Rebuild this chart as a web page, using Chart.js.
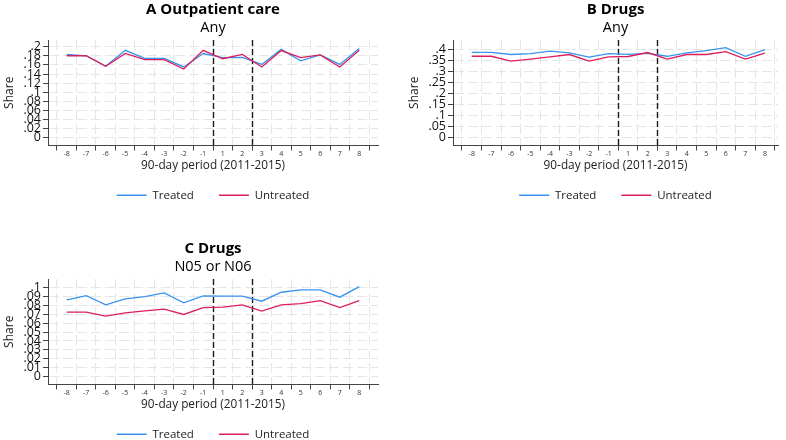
<!DOCTYPE html>
<html><head><meta charset="utf-8">
<script src="https://cdn.jsdelivr.net/npm/chart.js@4.4.1/dist/chart.umd.min.js"></script>
<style>
html,body{margin:0;padding:0;background:#fff;}
#wrap{position:relative;width:786px;height:440px;overflow:hidden;background:#fff;}
.p{position:absolute;}
canvas{display:block;}
</style></head><body>
<div id="wrap">
<div class="p" style="left:0px;top:0px"><canvas id="cA" width="426" height="211" style="width:426px;height:211px"></canvas></div>
<div class="p" style="left:405px;top:0px"><canvas id="cB" width="421" height="211" style="width:421px;height:211px"></canvas></div>
<div class="p" style="left:0px;top:239px"><canvas id="cC" width="426" height="211" style="width:426px;height:211px"></canvas></div>
</div>
<script>
// ---- data ----
const periods = ['-8','-7','-6','-5','-4','-3','-2','-1','1','2','3','4','5','6','7','8'];
const cutoffAfter = ['-1','2'];
const seriesNames = ['Treated','Untreated'];

const treatedA   = [0.183,0.180,0.157,0.192,0.1745,0.1745,0.1555,0.185,0.176,0.1765,0.161,0.194,0.169,0.182,0.161,0.196];
const untreatedA = [0.180,0.180,0.157,0.185,0.1715,0.1715,0.151,0.192,0.1735,0.183,0.1555,0.1915,0.176,0.182,0.1555,0.192];

const treatedB   = [0.389,0.389,0.379,0.383,0.394,0.386,0.367,0.383,0.380,0.384,0.371,0.386,0.397,0.410,0.371,0.401];
const untreatedB = [0.371,0.371,0.349,0.358,0.368,0.379,0.349,0.368,0.370,0.388,0.358,0.379,0.379,0.392,0.358,0.385];

const treatedC   = [0.0859,0.0907,0.0803,0.087,0.0896,0.0937,0.0826,0.0903,0.090,0.090,0.0844,0.0944,0.097,0.097,0.0889,0.1007];
const untreatedC = [0.0722,0.0722,0.0678,0.0714,0.0737,0.0756,0.0696,0.0773,0.0778,0.0803,0.0733,0.0803,0.0818,0.0851,0.0773,0.0851];

const yTicksA = [0,0.02,0.04,0.06,0.08,0.1,0.12,0.14,0.16,0.18,0.2];
const yTicksB = [0,0.05,0.1,0.15,0.2,0.25,0.3,0.35,0.4];
const yTicksC = [0,0.01,0.02,0.03,0.04,0.05,0.06,0.07,0.08,0.09,0.1];

const titles = ['A Outpatient care','B Drugs','C Drugs'];
const subtitles = ['Any','Any','N05 or N06'];
const xTitle = '90-day period (2011-2015)';
const yTitle = 'Share';

// ---- style ----
Chart.defaults.font.family = "'Open Sans', 'Noto Sans', sans-serif";
Chart.defaults.color = '#111';
const BLUE = '#3a93f0';
const RED = '#dc1f5a';
const GRID = '#e6e6e6';
const AXIS = '#444';

function fmtY(v){
  if (v === 0) return '0';
  return String(+v.toFixed(3)).replace(/^0\./,'.');
}

const cutoffPlugin = {
  id: 'cutoffLines',
  beforeDatasetsDraw(chart){
    const {ctx, chartArea, scales} = chart;
    const x = scales.x;
    ctx.save();
    ctx.strokeStyle = '#1a1a1a';
    ctx.lineWidth = 1.4;
    ctx.setLineDash([6,3]);
    cutoffAfter.forEach(c => {
      const v = periods.indexOf(c) + 0.5;
      const px = Math.round(x.getPixelForValue(v)) + 0.5;
      ctx.beginPath();
      ctx.moveTo(px, chartArea.top);
      ctx.lineTo(px, chartArea.bottom);
      ctx.stroke();
    });
    ctx.restore();
  }
};

function makePanel(id, k, treated, untreated, yTicks, yMin, yMax, xMax){
  const toXY = arr => arr.map((v,i) => ({x:i, y:v}));
  new Chart(document.getElementById(id), {
    type: 'line',
    data: {
      datasets: [
        {label: seriesNames[0], data: toXY(treated), borderColor: BLUE, pointBorderColor: BLUE, backgroundColor: BLUE,
         borderWidth: 1.3, pointBorderWidth: 1.3, pointRadius: 0, tension: 0, order: 1, yAxisID: 'y'},
        {label: seriesNames[1], data: toXY(untreated), borderColor: RED, pointBorderColor: RED, backgroundColor: RED,
         borderWidth: 1.3, pointBorderWidth: 1.3, pointRadius: 0, tension: 0, order: 0, yAxisID: 'y'}
      ]
    },
    options: {
      responsive: false,
      animation: false,
      devicePixelRatio: 1,
      layout: {padding: 0},
      scales: {
        x: {
          type: 'linear', min: -0.96, max: xMax,
          afterBuildTicks: s => { s.ticks = periods.map((p,i) => ({value: i})); },
          ticks: {autoSkip: false, maxRotation: 0, font: {size: 7}, color: '#333', padding: -1,
                  callback: v => (periods[v] !== undefined ? periods[v] : '')},
          grid: {offset: true, color: GRID, tickColor: AXIS, tickLength: 5, lineWidth: 1},
          border: {display: true, color: AXIS, width: 1, dash: [10,4]},
          title: {display: true, text: xTitle, font: {size: 11.8}, color: '#222', padding: {top: 0, bottom: -8}},
          afterFit: s => { s.height = 19; }
        },
        y: {
          type: 'linear', position: 'left', min: yMin, max: yMax,
          afterBuildTicks: s => { s.ticks = yTicks.map(v => ({value: v})); },
          ticks: {autoSkip: false, font: {size: 12.5}, color: '#111', padding: 2, callback: v => fmtY(v)},
          grid: {color: GRID, tickColor: AXIS, tickLength: 5, lineWidth: 1},
          border: {display: true, color: AXIS, width: 1, dash: [10,4]},
          title: {display: true, text: yTitle, font: {size: 12}, color: '#222', padding: {top: 2, bottom: 0}},
          afterFit: s => { s.width = 48; }
        },
        yR: {
          type: 'linear', position: 'right', display: true,
          grid: {display: false, drawTicks: false}, ticks: {display: false}, border: {display: false},
          afterFit: s => { s.width = 48; }
        }
      },
      plugins: {
        title: {display: true, text: titles[k], font: {size: 15, weight: 'bold'}, color: '#000', padding: {top: 0.5, bottom: 0}},
        subtitle: {display: true, text: subtitles[k], font: {size: 14.5, weight: 'normal'}, color: '#000', padding: {top: 0.5, bottom: 3.6}},
        legend: {
          position: 'bottom',
          labels: {usePointStyle: true, pointStyle: 'line', pointStyleWidth: 30, font: {size: 11.5}, color: '#222', padding: 25,
                   sort: (a,b) => a.datasetIndex - b.datasetIndex}
        },
        tooltip: {enabled: false}
      }
    },
    plugins: [cutoffPlugin]
  });
}

makePanel('cA', 0, treatedA, untreatedA, yTicksA, -0.0168, 0.2146, 15.96);
makePanel('cB', 1, treatedB, untreatedB, yTicksB, -0.0349, 0.445, 15.67);
makePanel('cC', 2, treatedC, untreatedC, yTicksC, -0.0086, 0.1092, 15.96);
</script>
</body></html>
